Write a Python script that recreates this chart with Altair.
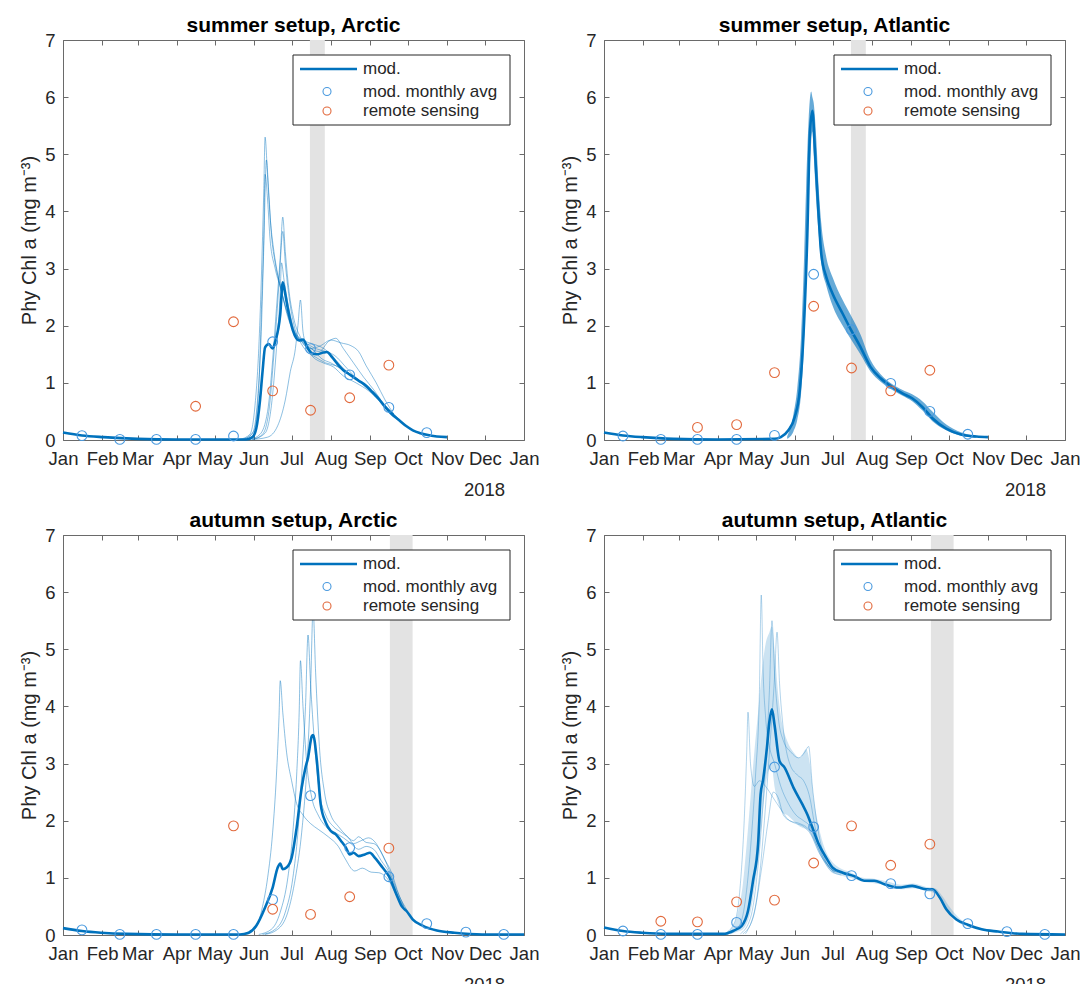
import altair as alt
import pandas as pd

# ---------------- axis / label data ----------------
MONTH_STARTS = [0, 31, 59, 90, 120, 151, 181, 212, 243, 273, 304, 334, 365]
MONTH_NAMES = ["Jan", "Feb", "Mar", "Apr", "May", "Jun", "Jul", "Aug", "Sep", "Oct", "Nov", "Dec", "Jan"]
MID_MONTH = [15, 45, 74, 105, 135, 166, 196, 227, 258, 288, 319, 349]
Y_TICKS = [0, 1, 2, 3, 4, 5, 6, 7]
YEAR_LABEL = "2018"
Y_TITLE = "Phy Chl a (mg m\u207b\u00b3)"
LEGEND_LABELS = ["mod.", "mod. monthly avg", "remote sensing"]
TITLES = ["summer setup, Arctic", "summer setup, Atlantic", "autumn setup, Arctic", "autumn setup, Atlantic"]

# ---------------- summer setup, Arctic ----------------
SAR_BAND = [195.5, 207.3]
SAR_MEAN = [(0, 0.13), (15, 0.08), (32, 0.05), (59, 0.02), (90, 0.01), (145, 0.01), (150, 0.05), (153, 0.2),
            (156, 0.7), (158, 1.2), (160, 1.62), (163, 1.68), (166, 1.6), (168, 1.72), (172, 2.2), (174, 2.76),
            (176, 2.55), (178, 2.3), (182, 1.92), (187, 1.74), (190, 1.76), (194, 1.6), (197, 1.52), (201, 1.5),
            (206, 1.53), (209, 1.54), (213, 1.45), (217, 1.34), (222, 1.22), (226, 1.16), (230, 1.1), (234, 1.04),
            (240, 0.95), (245, 0.84), (250, 0.72), (255, 0.58), (260, 0.46), (266, 0.35), (272, 0.24), (277, 0.17),
            (283, 0.12), (288, 0.09), (296, 0.06), (304, 0.05)]
SAR_M1 = [(140, 0.01), (148, 0.1), (152, 0.6), (155, 1.6), (157, 2.8), (159, 4.4), (160, 5.3), (162, 4.6), (164, 3.9),
          (167, 3.3), (170, 2.9), (174, 2.5), (178, 2.2), (183, 1.9), (190, 1.75), (198, 1.68), (205, 1.62), (212, 1.5),
          (220, 1.3), (230, 1.1), (240, 0.92), (250, 0.7), (258, 0.52), (266, 0.35)]
SAR_M2 = [(142, 0.01), (150, 0.12), (154, 0.7), (157, 1.9), (159, 3.4), (161, 4.9), (163, 4.3), (165, 3.6), (168, 3.1),
          (172, 2.7), (176, 2.35), (180, 2.05), (185, 1.8), (192, 1.7), (200, 1.6), (208, 1.55), (215, 1.48),
          (225, 1.25), (235, 1.02), (245, 0.82), (255, 0.6), (266, 0.36)]
SAR_M3 = [(143, 0.01), (151, 0.15), (155, 0.9), (157, 2.2), (159, 3.6), (160, 4.65), (162, 4.2), (164, 3.5), (168, 3.0),
          (173, 2.6), (178, 2.15), (184, 1.85), (190, 1.7), (198, 1.45), (206, 1.35), (214, 1.28), (222, 1.12),
          (232, 1.0), (242, 0.86), (252, 0.65), (260, 0.48), (266, 0.36)]
SAR_M4 = [(148, 0.01), (156, 0.1), (162, 0.5), (166, 1.4), (169, 2.3), (172, 3.2), (174, 3.9), (176, 3.3), (179, 2.6),
          (183, 2.1), (188, 1.8), (195, 1.62), (203, 1.55), (210, 1.72), (216, 1.78), (222, 1.6), (230, 1.35),
          (238, 1.1), (246, 0.88), (254, 0.63), (262, 0.45)]
SAR_M5 = [(150, 0.01), (158, 0.1), (163, 0.5), (167, 1.5), (170, 2.4), (172, 3.1), (174, 3.65), (176, 3.1), (179, 2.5),
          (183, 2.0), (189, 1.72), (196, 1.6), (204, 1.65), (212, 1.75), (220, 1.7), (228, 1.65), (234, 1.55),
          (240, 1.3), (248, 1.0), (255, 0.7), (262, 0.45)]
SAR_M6 = [(150, 0.01), (160, 0.12), (165, 0.6), (169, 1.6), (172, 2.6), (173, 3.1), (175, 2.8), (178, 2.4), (182, 2.0),
          (187, 1.75), (193, 1.55), (200, 1.45), (208, 1.35), (216, 1.3), (224, 1.2), (234, 1.05), (244, 0.85),
          (254, 0.62), (262, 0.45)]
SAR_M7 = [(150, 0.01), (162, 0.05), (170, 0.25), (176, 0.7), (180, 1.2), (184, 1.6), (186, 2.0), (188, 2.45), (190, 1.9),
          (192, 1.72), (198, 1.58), (205, 1.42), (212, 1.35), (220, 1.25), (228, 1.15), (236, 1.02), (245, 0.85),
          (254, 0.62), (262, 0.45)]
SAR_AVG = [0.076, 0.01, 0.01, 0.01, 0.07, 1.72, 1.6, 1.14, 0.57, 0.13]
SAR_RS_DAYS = [105, 135, 166, 196, 227, 258]
SAR_RS = [0.59, 2.07, 0.86, 0.52, 0.74, 1.31]

# ---------------- summer setup, Atlantic ----------------
SAT_BAND = [195.5, 207.3]
SAT_MEAN = [(0, 0.13), (15, 0.08), (30, 0.05), (55, 0.02), (90, 0.01), (135, 0.02), (140, 0.05), (146, 0.17),
            (151, 0.4), (155, 0.87), (158, 1.86), (161, 3.6), (163, 5.36), (165, 5.76), (167, 5.07), (170, 3.9),
            (172, 3.26), (176, 2.85), (181, 2.56), (189, 2.21), (195, 1.95), (203, 1.63), (211, 1.28), (219, 1.08),
            (228, 0.93), (236, 0.82), (244, 0.73), (252, 0.58), (260, 0.38), (271, 0.2), (282, 0.1), (295, 0.06),
            (304, 0.05)]
SAT_ENV = [(145, 0.02, 0.06), (150, 0.15, 0.45), (153, 0.35, 0.9), (156, 0.8, 1.8), (158, 1.5, 2.9), (160, 2.8, 4.4),
           (162, 4.2, 5.6), (164, 5.2, 6.1), (165, 5.4, 6.0), (166, 5.0, 5.9), (168, 4.2, 5.3), (170, 3.6, 4.4),
           (172, 3.1, 3.8), (176, 2.7, 3.2), (181, 2.35, 2.85), (189, 2.0, 2.45), (195, 1.78, 2.2), (203, 1.5, 1.85),
           (211, 1.2, 1.4), (219, 1.02, 1.15), (228, 0.88, 0.98), (236, 0.78, 0.88), (244, 0.68, 0.8),
           (252, 0.52, 0.68), (260, 0.33, 0.5), (271, 0.17, 0.27), (282, 0.08, 0.14), (295, 0.04, 0.07)]
SAT_AVG = [0.07, 0.01, 0.01, 0.01, 0.08, 2.9, 1.93, 0.99, 0.5, 0.1]
SAT_RS_DAYS = [74, 105, 135, 166, 196, 227, 258]
SAT_RS = [0.22, 0.27, 1.18, 2.34, 1.26, 0.86, 1.22]

# ---------------- autumn setup, Arctic ----------------
AAR_BAND = [258.8, 276.8]
AAR_MEAN = [(0, 0.12), (15, 0.07), (30, 0.04), (50, 0.02), (90, 0.01), (140, 0.01), (147, 0.04), (153, 0.16),
            (160, 0.48), (166, 0.83), (170, 1.18), (172, 1.25), (174, 1.15), (177, 1.18), (181, 1.35), (185, 1.88),
            (189, 2.58), (192, 2.93), (194, 3.1), (197, 3.48), (198, 3.5), (201, 3.05), (204, 2.29), (208, 1.97),
            (212, 1.82), (216, 1.76), (220, 1.65), (224, 1.53), (227, 1.41), (230, 1.44), (234, 1.38), (239, 1.41),
            (243, 1.44), (247, 1.35), (253, 1.18), (258, 1.03), (264, 0.71), (268, 0.51), (272, 0.42), (277, 0.27),
            (285, 0.16), (296, 0.08), (310, 0.04), (332, 0.01), (365, 0.01)]
AAR_M1 = [(145, 0.01), (152, 0.1), (158, 0.5), (162, 1.0), (166, 1.8), (169, 2.8), (171, 3.8), (172, 4.45), (174, 3.9),
          (177, 3.2), (181, 2.7), (185, 2.3), (190, 2.1), (196, 1.95), (202, 1.85), (210, 1.72), (218, 1.55),
          (223, 1.35), (231, 1.12), (237, 1.17), (244, 1.1), (250, 1.09), (258, 0.95), (264, 0.7), (270, 0.45)]
AAR_M2 = [(155, 0.01), (165, 0.1), (172, 0.4), (178, 1.0), (182, 1.8), (185, 2.8), (187, 3.9), (188, 4.8), (190, 4.0),
          (193, 3.0), (197, 2.4), (202, 2.1), (208, 1.9), (215, 1.8), (222, 1.7), (228, 1.6), (234, 1.5), (240, 1.55),
          (246, 1.5), (252, 1.3), (258, 1.1), (264, 0.75), (270, 0.48)]
AAR_M3 = [(158, 0.01), (168, 0.1), (176, 0.4), (182, 1.0), (186, 1.8), (189, 2.8), (192, 4.0), (194, 5.25), (196, 4.4),
          (199, 3.4), (203, 2.5), (208, 2.1), (214, 1.9), (220, 1.8), (226, 1.7), (230, 1.6), (236, 1.65), (242, 1.7),
          (248, 1.6), (254, 1.35), (260, 1.1), (266, 0.7), (272, 0.45)]
AAR_M4 = [(160, 0.01), (170, 0.1), (178, 0.4), (184, 1.0), (189, 1.8), (193, 2.9), (196, 4.3), (198, 5.7), (200, 4.6),
          (203, 3.3), (207, 2.5), (212, 2.1), (218, 1.9), (224, 1.75), (230, 1.65), (234, 1.72), (240, 1.62),
          (246, 1.6), (252, 1.45), (258, 1.15), (264, 0.8), (270, 0.5)]
AAR_AVG = [0.09, 0.01, 0.01, 0.01, 0.01, 0.62, 2.44, 1.53, 1.02, 0.2, 0.05, 0.01]
AAR_RS_DAYS = [135, 166, 196, 227, 258]
AAR_RS = [1.91, 0.45, 0.36, 0.67, 1.52]

# ---------------- autumn setup, Atlantic ----------------
AAT_BAND = [258.8, 276.8]
AAT_MEAN = [(0, 0.13), (15, 0.07), (30, 0.04), (50, 0.02), (95, 0.02), (102, 0.07), (109, 0.16), (114, 0.42),
            (118, 0.95), (122, 1.59), (124, 2.46), (126, 2.72), (129, 3.28), (131, 3.74), (133, 3.95), (135, 3.68),
            (139, 3.04), (143, 2.93), (150, 2.58), (157, 2.29), (161, 2.11), (165, 1.88), (170, 1.59), (176, 1.35),
            (181, 1.18), (189, 1.09), (198, 1.03), (206, 0.95), (214, 0.95), (222, 0.89), (233, 0.83), (244, 0.86),
            (255, 0.8), (260, 0.8), (266, 0.65), (271, 0.45), (279, 0.27), (288, 0.18), (299, 0.1), (312, 0.06),
            (331, 0.02), (365, 0.01)]
AAT_ENV = [(95, 0.01, 0.03), (102, 0.03, 0.15), (106, 0.06, 0.4), (110, 0.1, 0.9), (113, 0.2, 1.6), (116, 0.4, 2.4),
           (119, 0.8, 3.2), (122, 1.3, 3.9), (125, 2.0, 4.6), (128, 2.6, 5.1), (131, 2.9, 5.3), (133, 2.9, 5.4),
           (135, 2.6, 5.0), (138, 2.3, 4.2), (141, 2.15, 3.7), (145, 2.1, 3.4), (150, 2.0, 3.2), (155, 1.9, 3.1),
           (160, 1.85, 3.25), (163, 1.8, 3.0), (166, 1.65, 2.4), (170, 1.45, 1.9), (175, 1.25, 1.5), (180, 1.1, 1.3),
           (186, 1.05, 1.18), (195, 1.0, 1.1), (205, 0.93, 1.0), (215, 0.9, 0.98), (225, 0.86, 0.93),
           (235, 0.8, 0.88), (245, 0.82, 0.9), (255, 0.77, 0.84), (262, 0.73, 0.82), (268, 0.55, 0.68),
           (274, 0.35, 0.48), (282, 0.2, 0.28), (292, 0.12, 0.16), (305, 0.06, 0.09)]
AAT_M1 = [(100, 0.02), (108, 0.2), (113, 0.8), (117, 1.8), (120, 2.8), (123, 4.2), (124.5, 5.95), (126, 4.6),
          (128, 3.8), (131, 3.3), (135, 3.0), (140, 2.6), (146, 2.3), (152, 2.1), (158, 2.0), (163, 1.9), (168, 1.6),
          (174, 1.3), (180, 1.12), (188, 1.05)]
AAT_M2 = [(95, 0.02), (103, 0.2), (108, 0.9), (111, 2.0), (113, 3.2), (114, 3.9), (116, 3.0), (119, 2.6), (123, 2.7),
          (128, 2.6), (134, 2.4), (140, 2.2), (147, 2.0), (155, 1.95), (162, 1.85), (168, 1.6), (175, 1.3), (182, 1.1)]
AAT_M3 = [(108, 0.02), (116, 0.3), (121, 1.0), (125, 2.0), (128, 3.0), (131, 4.3), (133, 5.5), (135, 4.6), (138, 3.8),
          (142, 3.4), (148, 3.2), (154, 3.1), (159, 3.2), (162, 3.3), (165, 2.6), (169, 1.9), (174, 1.4), (180, 1.15),
          (188, 1.08)]
AAT_M4 = [(110, 0.02), (118, 0.3), (123, 1.0), (127, 2.0), (131, 3.2), (135, 4.5), (137, 5.3), (139, 4.4), (142, 3.6),
          (147, 3.0), (153, 2.8), (158, 2.7), (163, 2.4), (167, 1.9), (172, 1.45), (178, 1.2), (185, 1.1)]
AAT_M5 = [(112, 0.02), (120, 0.5), (125, 1.2), (130, 2.0), (134, 2.5), (138, 2.4), (142, 2.1), (147, 2.0), (152, 1.95),
          (158, 1.9), (164, 1.75), (170, 1.45), (176, 1.25), (183, 1.1)]
AAT_AVG = [0.07, 0.01, 0.01, 0.22, 2.94, 1.89, 1.04, 0.9, 0.72, 0.2, 0.06, 0.01]
AAT_RS_DAYS = [45, 74, 105, 135, 166, 196, 227, 258]
AAT_RS = [0.24, 0.23, 0.58, 0.61, 1.26, 1.91, 1.22, 1.59]

# ---------------- styling ----------------
W, H = 461, 400
BLUE = "#0072BD"
AVG_COLOR = "#4A9ADF"
RS_COLOR = "#E2693C"
BAND_COLOR = "#E3E3E3"
AXIS_COLOR = "#6A6A6A"
TEXT_COLOR = "#262626"
FONT = "Liberation Sans"

XS = alt.Scale(domain=[0, 365], nice=False, zero=False)
YS = alt.Scale(domain=[0, 7], nice=False, zero=False)

label_expr = "[" + ",".join("'%s'" % m for m in MONTH_NAMES) + "][indexof([" + \
    ",".join(str(v) for v in MONTH_STARTS) + "], datum.value)]"

X_BOTTOM = alt.Axis(orient="bottom", values=MONTH_STARTS, labelExpr=label_expr, title=None, grid=False,
                    domain=False, tickSize=5, offset=-5, tickColor=AXIS_COLOR, labelColor=TEXT_COLOR,
                    labelFont=FONT, labelFontSize=18.5, labelPadding=9, labelOverlap=False, labelFlush=False)
X_TOP = alt.Axis(orient="top", values=MONTH_STARTS, labels=False, title=None, grid=False, domain=False,
                 tickSize=5, offset=-5, tickColor=AXIS_COLOR)
Y_LEFT = alt.Axis(orient="left", values=Y_TICKS, title=Y_TITLE, titleFont=FONT, titleFontSize=20,
                  titleFontWeight="normal", titleColor=TEXT_COLOR, titlePadding=5, grid=False, domain=False,
                  tickSize=5, offset=-5, tickColor=AXIS_COLOR, labelColor=TEXT_COLOR, labelFont=FONT,
                  labelFontSize=18.5, labelPadding=8, labelFlush=False, labelOverlap=False)
Y_RIGHT = alt.Axis(orient="right", values=Y_TICKS, labels=False, title=None, grid=False, domain=False,
                   tickSize=5, offset=-5, tickColor=AXIS_COLOR)


def line_df(points):
    return pd.DataFrame(points, columns=["day", "val"])


def members_df(members):
    frames = []
    for i, m in enumerate(members):
        d = line_df(m)
        d["member"] = i
        frames.append(d)
    return pd.concat(frames, ignore_index=True)


def panel(title, band, mean, avg, rs_days, rs_vals, members=None, env=None, mem_opacity=0.45, env_opacity=0.35):
    one = pd.DataFrame({"a": [0]})
    layers = []
    band_df = pd.DataFrame({"b0": [band[0]], "b1": [band[1]]})
    layers.append(alt.Chart(band_df).mark_rect(color=BAND_COLOR).encode(
        x=alt.X("b0:Q", scale=XS, axis=X_TOP), x2="b1:Q", y=alt.value(0), y2=alt.value(H)))
    if env is not None:
        env_df = pd.DataFrame(env, columns=["day", "lo", "hi"])
        layers.append(alt.Chart(env_df).mark_area(color=BLUE, opacity=env_opacity, interpolate="monotone").encode(
            x=alt.X("day:Q", scale=XS, axis=None), y=alt.Y("lo:Q", scale=YS, axis=None), y2="hi:Q"))
    if members is not None:
        layers.append(alt.Chart(members_df(members)).mark_line(
            color=BLUE, strokeWidth=1, opacity=mem_opacity, interpolate="monotone").encode(
            x=alt.X("day:Q", scale=XS, axis=None), y=alt.Y("val:Q", scale=YS, axis=None), detail="member:N"))
    layers.append(alt.Chart(line_df(mean)).mark_line(color=BLUE, strokeWidth=2.6, interpolate="monotone").encode(
        x=alt.X("day:Q", scale=XS, axis=X_BOTTOM), y=alt.Y("val:Q", scale=YS, axis=Y_LEFT)))
    avg_df = pd.DataFrame({"day": MID_MONTH[:len(avg)], "val": avg})
    layers.append(alt.Chart(avg_df).mark_point(shape="circle", filled=False, color=AVG_COLOR, size=95,
                                               strokeWidth=1.1, opacity=1).encode(
        x=alt.X("day:Q", scale=XS, axis=None), y=alt.Y("val:Q", scale=YS, axis=Y_RIGHT)))
    rs_df = pd.DataFrame({"day": rs_days, "val": rs_vals})
    layers.append(alt.Chart(rs_df).mark_point(shape="circle", filled=False, color=RS_COLOR, size=95,
                                              strokeWidth=1.1, opacity=1).encode(
        x=alt.X("day:Q", scale=XS, axis=None), y=alt.Y("val:Q", scale=YS, axis=None)))
    # legend (drawn inside the axes, like MATLAB's)
    layers.append(alt.Chart(one).mark_rect(fill="white", stroke=TEXT_COLOR, strokeWidth=1).encode(
        x=alt.value(230), x2=alt.value(447), y=alt.value(15), y2=alt.value(85)))
    layers.append(alt.Chart(one).mark_rule(color=BLUE, strokeWidth=2.6).encode(
        x=alt.value(237), x2=alt.value(294), y=alt.value(29)))
    layers.append(alt.Chart(one).mark_point(shape="circle", filled=False, color=AVG_COLOR, size=64,
                                            strokeWidth=1.1, opacity=1).encode(x=alt.value(264), y=alt.value(51.5)))
    layers.append(alt.Chart(one).mark_point(shape="circle", filled=False, color=RS_COLOR, size=64,
                                            strokeWidth=1.1, opacity=1).encode(x=alt.value(264), y=alt.value(71)))
    for lbl, yy in zip(LEGEND_LABELS, [29, 51.5, 71]):
        layers.append(alt.Chart(one).mark_text(align="left", baseline="middle", font=FONT, fontSize=17,
                                               color=TEXT_COLOR).encode(
            x=alt.value(300), y=alt.value(yy), text=alt.value(lbl)))
    year_df = pd.DataFrame({"day": [MONTH_STARTS[-1]], "t": [YEAR_LABEL]})
    layers.append(alt.Chart(year_df).mark_text(align="center", baseline="alphabetic", font=FONT, fontSize=18.5,
                                               color=TEXT_COLOR, dx=-39.5).encode(
        x=alt.X("day:Q", scale=XS, axis=None), y=alt.value(H + 56), text="t:N"))
    return alt.layer(*layers).resolve_axis(x="independent", y="independent").properties(
        width=W, height=H,
        title=alt.Title(title, font=FONT, fontSize=21, fontWeight="bold", color="#000000", anchor="middle",
                        frame="group", offset=-22, baseline="alphabetic"))


p1 = panel(TITLES[0], SAR_BAND, SAR_MEAN, SAR_AVG, SAR_RS_DAYS, SAR_RS,
           members=[SAR_M1, SAR_M2, SAR_M3, SAR_M4, SAR_M5, SAR_M6, SAR_M7], mem_opacity=0.45)
p2 = panel(TITLES[1], SAT_BAND, SAT_MEAN, SAT_AVG, SAT_RS_DAYS, SAT_RS, env=SAT_ENV, env_opacity=0.6)
p3 = panel(TITLES[2], AAR_BAND, AAR_MEAN, AAR_AVG, AAR_RS_DAYS, AAR_RS,
           members=[AAR_M1, AAR_M2, AAR_M3, AAR_M4], mem_opacity=0.45)
p4 = panel(TITLES[3], AAT_BAND, AAT_MEAN, AAT_AVG, AAT_RS_DAYS, AAT_RS,
           members=[AAT_M1, AAT_M2, AAT_M3, AAT_M4, AAT_M5], env=AAT_ENV, mem_opacity=0.3, env_opacity=0.2)

chart = alt.concat(p1, p2, p3, p4, columns=2, spacing={"row": 95, "column": 80}, bounds="flush").properties(
    padding={"left": 19, "top": 14, "right": 0, "bottom": 0},
    background="white",
).configure_view(stroke=AXIS_COLOR, strokeWidth=1)

chart.save("out.html", embed_options={"renderer": "svg", "actions": False})
